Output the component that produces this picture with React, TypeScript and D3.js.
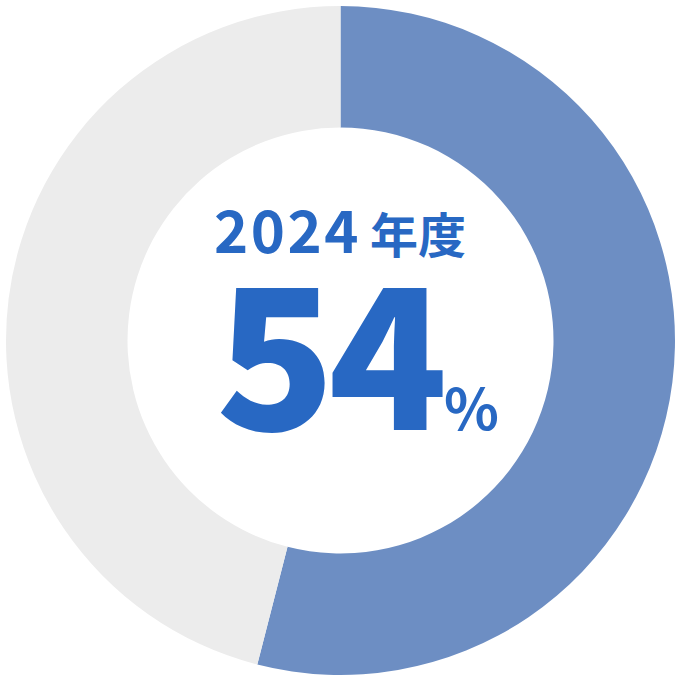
import React, {useEffect, useRef} from "react";
import * as d3 from "d3";

const labels = ["達成", "未達成"];
const values = [54, 46];
const colors = ["#6d8ec3", "#ececec"];
const yearLabel = "2024";
const yearSuffix = "年度";
const percentLabel = "54";

const W = 680;
const H = 680;

export default function App() {
    const ref = useRef<SVGSVGElement>(null);

    useEffect(() => {
        const svgEl = d3.select(ref.current);
        svgEl.selectAll("*").remove();

        const g = svgEl.append("g").attr("transform", "translate(340.5,340.5)");

        const pie = d3.pie<number>().sort(null).value(d => d);
        const arc = d3.arc<d3.PieArcDatum<number>>().innerRadius(213).outerRadius(334.5);

        g.selectAll("path")
            .data(pie(values))
            .enter()
            .append("path")
            .attr("d", arc)
            .attr("fill", (d, i) => colors[i])
            .append("title")
            .text((d, i) => labels[i] + " " + values[i] + "%");

        const font = "'Noto Sans CJK JP', 'Noto Sans', sans-serif";
        const blue = "#2868c3";

        // year label
        svgEl.append("text")
            .attr("x", 214)
            .attr("y", 253)
            .attr("font-family", font)
            .attr("font-weight", 700)
            .attr("font-size", 58)
            .attr("letter-spacing", 2.5)
            .attr("fill", blue)
            .text(yearLabel);
        svgEl.append("text")
            .attr("x", 370)
            .attr("y", 253)
            .attr("font-family", font)
            .attr("font-weight", 700)
            .attr("font-size", 48)
            .attr("fill", blue)
            .text(yearSuffix);

        // big number
        svgEl.append("text")
            .attr("x", 216)
            .attr("y", 430)
            .attr("font-family", font)
            .attr("font-weight", 900)
            .attr("font-size", 196)
            .attr("letter-spacing", -7)
            .attr("fill", blue)
            .text(percentLabel);

        svgEl.append("text")
            .attr("x", 444)
            .attr("y", 430)
            .attr("font-family", font)
            .attr("font-weight", 700)
            .attr("font-size", 57)
            .attr("fill", blue)
            .text("%");
    }, []);

    return (
        <svg ref={ref} width={W} height={H}
             style={{position: "absolute", left: 0, top: 0, background: "#fff"}}/>
    );
}
